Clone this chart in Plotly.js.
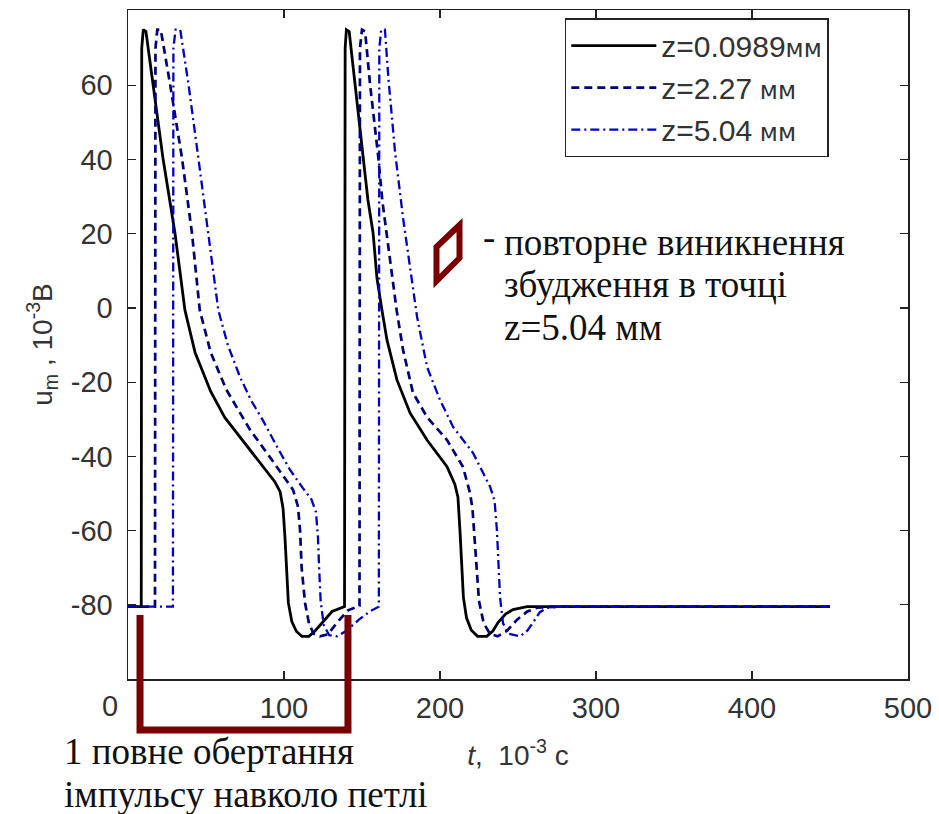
<!DOCTYPE html>
<html>
<head>
<meta charset="utf-8">
<script src="https://cdn.plot.ly/plotly-3.0.1.min.js"></script>
<style>html,body{margin:0;padding:0;background:#fff;}#chart{width:939px;height:814px;}</style>
</head>
<body>
<div id="chart"></div>
<script>
// ---- data (t in 10^-3 s, u_m in 10^-3 V) ----
const seriesNames = [
  'z=0.0989<span style="font-family:DejaVu Sans;font-size:24px">мм</span>',
  'z=2.27<span style="font-family:DejaVu Sans;font-size:24px"> мм</span>',
  'z=5.04<span style="font-family:DejaVu Sans;font-size:24px"> мм</span>'
];

const tBlack = [0, 8.5, 8.8, 9.8, 11.5, 13.5, 16, 22.4, 30.1, 36.5, 43, 53, 62, 71.8, 78.2, 86, 94.2, 97.5, 99.4, 100.6, 101.8, 102.8, 105, 108, 111.5, 116, 120, 124.4, 130.8, 138.8,
  139.2, 140, 141.8, 143.5, 145.5, 150.6, 153.8, 157.1, 159.6, 162.8, 166, 172.4, 180.8, 191.7, 204.5, 209.5, 211.5, 212.8, 214, 215, 217, 220, 224, 230, 234, 237.2, 242, 246.8, 255.8, 270, 450];
const uBlack = [-80.5, -80.5, 70, 75, 74.5, 68, 60.5, 40.4, 20.2, -0.6, -12, -22.5, -29.5, -34.8, -38.2, -42.5, -46.9, -49.5, -54, -61.7, -72, -79.5, -84.5, -87.2, -88.5, -88.5, -87, -84.8, -81.8, -80.5,
  70, 75, 74.5, 68, 60.5, 40.4, 29.1, 20.2, 8, -0.6, -8.6, -19.4, -28.3, -35.6, -42.8, -47.5, -51, -60, -72, -78, -83.5, -86.8, -88.5, -88.5, -87, -84.8, -82.5, -81.3, -80.5, -80.5, -80.5];

const tDash = [0, 17.3, 17.6, 18.8, 21, 23.5, 26.9, 34.6, 41, 46, 53, 63, 71.8, 78.2, 92.3, 105.8, 109, 110.3, 111.3, 113.5, 116, 119, 123, 128, 134.6, 141, 148.4,
  148.7, 150, 152, 155.1, 160.5, 163, 165.8, 169, 172.2, 176.3, 182.7, 191.7, 204.5, 214.7, 219.2, 220.8, 222, 223.5, 225, 228, 232, 237, 243, 249.4, 256, 262.2, 275, 450];
const uDash = [-80.5, -80.5, 70, 75, 75, 69, 60.5, 40.4, 20.2, -0.6, -12, -22, -28.3, -32.8, -41, -49, -53.6, -60, -70, -79.5, -85, -87.8, -88.5, -88, -84.5, -81.5, -80.3,
  70, 75, 74.5, 60.5, 40.4, 29, 20.2, 10, -0.6, -11.3, -22.9, -29.4, -35.6, -42.8, -49.8, -54, -62, -72, -79, -85, -87.8, -88.5, -87, -84, -81.8, -80.8, -80.5, -80.5];

const tDashDot = [0, 28.8, 29.1, 30.5, 33.5, 35.8, 38.7, 45.1, 51.5, 57.9, 64, 71.8, 79, 86.5, 95, 103.8, 112, 117.5, 120.5, 121.8, 122.5, 123.5, 125.5, 129, 134, 140, 148, 155, 160.8,
  161.1, 162.3, 164.7, 166.9, 171.2, 176.4, 180.8, 185.3, 191.7, 200, 208.3, 221.2, 232.1, 235, 236.5, 237.5, 238.5, 240.4, 244, 251.3, 256, 259.6, 264, 268.6, 277, 450];
const uDashDot = [-80.5, -80.5, 70, 75, 75, 69, 60.5, 40.4, 20.2, -0.6, -10, -18.6, -25, -30.3, -37, -43.6, -48.5, -51.5, -55, -62, -70, -79, -85.5, -88.2, -88.5, -87, -84, -81.8, -80.5,
  70, 75, 75, 62, 42, 24, 11, -2.4, -15.9, -24.8, -32, -39.1, -48.2, -52, -60, -70, -78, -85, -87.8, -88.5, -87, -84.8, -82, -80.8, -80.5, -80.5];

const xTickVals = [100, 200, 300, 400, 500];
const xTickText = ['100', '200', '300', '400', '500'];
const xZeroLabel = '0';
const yTickVals = [-80, -60, -40, -20, 0, 20, 40, 60];
const yTickText = ['-80', '-60', '-40', '-20', '0', '20', '40', '60'];

const traces = [
  {x: tBlack, y: uBlack, name: seriesNames[0], mode: 'lines', line: {color: '#000000', width: 2.8}},
  {x: tDash, y: uDash, name: seriesNames[1], mode: 'lines', line: {color: '#00007a', width: 2.7, dash: '8px,5px'}},
  {x: tDashDot, y: uDashDot, name: seriesNames[2], mode: 'lines', line: {color: '#0000c8', width: 2.3, dash: '9px,4px,2px,4px'}}
];

const sans = 'Liberation Sans, Arial, sans-serif';
const tickFont = {family: sans, size: 29, color: '#333'};
const serif = {family: 'Liberation Serif, Times New Roman, serif', size: 37, color: '#111'};
const darkRed = '#7a0000';

const layout = {
  width: 939, height: 814,
  margin: {l: 128, r: 31, t: 10, b: 135},
  paper_bgcolor: '#fff', plot_bgcolor: '#fff',
  showlegend: true,
  legend: {
    x: 0.56, y: 0.988, xanchor: 'left', yanchor: 'top',
    bgcolor: '#fff', bordercolor: '#222', borderwidth: 1.5,
    font: {family: sans, size: 30, color: '#333'},
    itemwidth: 85, tracegroupgap: 0
  },
  xaxis: {
    range: [0, 500], tickvals: xTickVals, ticktext: xTickText,
    ticks: 'inside', ticklen: 8, tickcolor: '#222', tickwidth: 1.3,
    showline: true, linecolor: '#222', linewidth: 1.5, mirror: 'ticks',
    showgrid: false, zeroline: false, tickfont: tickFont, ticklabelstandoff: 3,
    title: {text: '<i>t</i>,  10<sup>-3</sup> c', font: {family: sans, size: 28, color: '#333'}, standoff: 22}
  },
  yaxis: {
    range: [-100, 80.3], tickvals: yTickVals, ticktext: yTickText,
    ticks: 'inside', ticklen: 8, tickcolor: '#222', tickwidth: 1.3,
    showline: true, linecolor: '#222', linewidth: 1.5, mirror: 'ticks',
    showgrid: false, zeroline: false, tickfont: tickFont, ticklabelstandoff: 8,
    title: {text: 'u<sub>m</sub> , 10<sup>-3</sup>B', font: {family: sans, size: 28, color: '#333'}, standoff: 10}
  },
  shapes: [
    // bracket: one full revolution of the impulse around the loop
    {type: 'path', xref: 'paper', yref: 'paper',
     path: 'M 0.0154 0.0957 L 0.0154 -0.0762 L 0.282 -0.0762 L 0.282 0.0957',
     line: {color: darkRed, width: 7}},
    // re-excitation marker (parallelogram)
    {type: 'path', xref: 'paper', yref: 'paper',
     path: 'M 0.3955 0.6457 L 0.425 0.6786 L 0.425 0.6293 L 0.3955 0.5949 Z',
     line: {color: darkRed, width: 6}}
  ],
  annotations: [
    {xref: 'paper', yref: 'paper', x: -0.023, y: -0.04, text: xZeroLabel, showarrow: false, xanchor: 'center', yanchor: 'middle', font: tickFont},
    {xref: 'paper', yref: 'paper', x: 0.452, y: 0.66, text: '-', showarrow: false, xanchor: 'left', yanchor: 'middle', font: serif},
    {xref: 'paper', yref: 'paper', x: 0.4790, y: 0.653, text: 'повторне виникнення', showarrow: false, xanchor: 'left', yanchor: 'middle', font: serif},
    {xref: 'paper', yref: 'paper', x: 0.4790, y: 0.589, text: 'збудження в точці', showarrow: false, xanchor: 'left', yanchor: 'middle', font: serif},
    {xref: 'paper', yref: 'paper', x: 0.4790, y: 0.526, text: 'z=5.04 мм', showarrow: false, xanchor: 'left', yanchor: 'middle', font: serif},
    {xref: 'paper', yref: 'paper', x: -0.084, y: -0.109, text: '1 повне обертання', showarrow: false, xanchor: 'left', yanchor: 'middle', font: serif},
    {xref: 'paper', yref: 'paper', x: -0.084, y: -0.173, text: 'імпульсу навколо петлі', showarrow: false, xanchor: 'left', yanchor: 'middle', font: serif}
  ]
};

Plotly.newPlot('chart', traces, layout, {displayModeBar: false, staticPlot: true});
</script>
</body>
</html>
